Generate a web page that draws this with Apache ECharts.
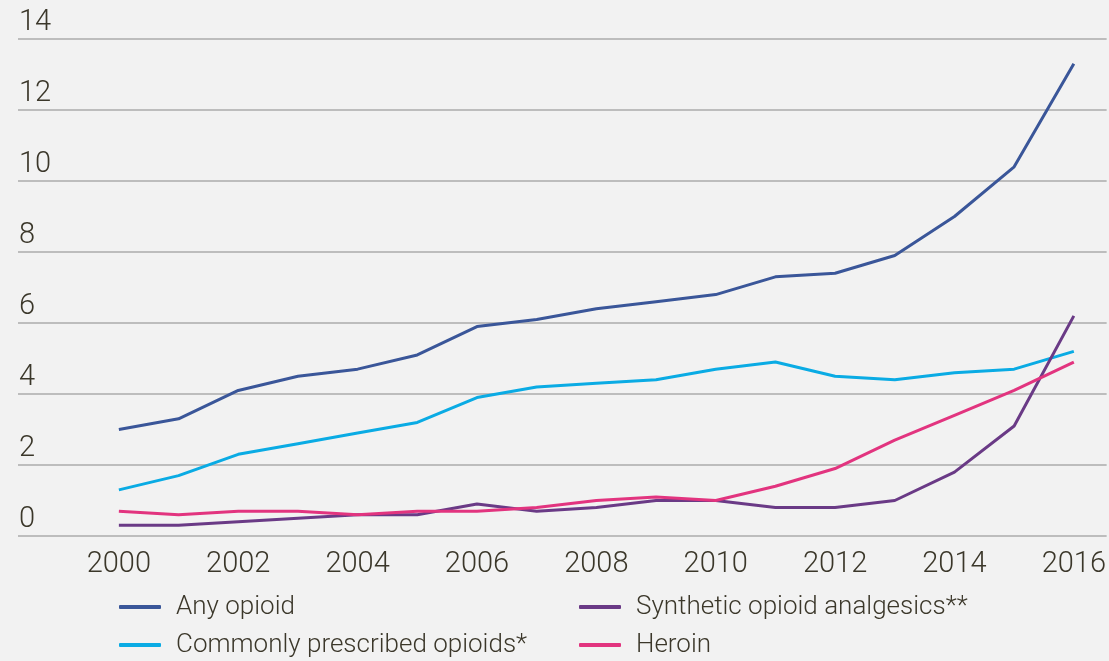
<!DOCTYPE html>
<html>
<head>
<meta charset="utf-8">
<script src="https://cdn.jsdelivr.net/npm/echarts@6/dist/echarts.min.js"></script>
<style>
  html, body { margin: 0; padding: 0; background: #f2f2f2; }
  #chart { width: 1109px; height: 661px; }
</style>
</head>
<body>
<div id="chart"></div>
<script>
// Opioid overdose death rates per 100,000, 2000–2016
const years = [2000, 2001, 2002, 2003, 2004, 2005, 2006, 2007, 2008, 2009, 2010, 2011, 2012, 2013, 2014, 2015, 2016];
const anyOpioid = [3.0, 3.3, 4.1, 4.5, 4.7, 5.1, 5.9, 6.1, 6.4, 6.6, 6.8, 7.3, 7.4, 7.9, 9.0, 10.4, 13.3];
const prescribed = [1.3, 1.7, 2.3, 2.6, 2.9, 3.2, 3.9, 4.2, 4.3, 4.4, 4.7, 4.9, 4.5, 4.4, 4.6, 4.7, 5.2];
const synthetic = [0.3, 0.3, 0.4, 0.5, 0.6, 0.6, 0.9, 0.7, 0.8, 1.0, 1.0, 0.8, 0.8, 1.0, 1.8, 3.1, 6.2];
const heroin = [0.7, 0.6, 0.7, 0.7, 0.6, 0.7, 0.7, 0.8, 1.0, 1.1, 1.0, 1.4, 1.9, 2.7, 3.4, 4.1, 4.9];
const yearLabels = [2000, 2002, 2004, 2006, 2008, 2010, 2012, 2014, 2016];

const names = ['Any opioid', 'Commonly prescribed opioids*', 'Synthetic opioid analgesics**', 'Heroin'];
const colors = ['#3a5699', '#0aabe4', '#6a3a86', '#e2347f'];

const FONT = 'Roboto, "Liberation Sans", sans-serif';
const TEXT = '#3b372a';

function pairs(vals) { return years.map((y, i) => [y, vals[i]]); }

const chart = echarts.init(document.getElementById('chart'), null, { renderer: 'canvas' });

const legendBase = {
  orient: 'vertical',
  top: 593,
  padding: 0,
  itemWidth: 42,
  itemHeight: 4,
  itemGap: 10,
  icon: 'roundRect',
  selectedMode: false,
  textStyle: {
    fontFamily: FONT, fontSize: 26, fontWeight: 300, color: TEXT,
    lineHeight: 28, padding: [0, 0, 0, 10]
  }
};

chart.setOption({
  backgroundColor: '#f2f2f2',
  animation: false,
  color: colors,
  grid: { left: 18, right: 2, top: 39, bottom: 125, containLabel: false },
  legend: [
    Object.assign({}, legendBase, { left: 119, data: [names[0], names[1]] }),
    Object.assign({}, legendBase, { left: 579, data: [names[2], names[3]] })
  ],
  xAxis: {
    type: 'value',
    min: 1998.31,
    max: 2016.55,
    axisLine: { show: false },
    axisTick: { show: false },
    splitLine: { show: false },
    axisLabel: {
      customValues: yearLabels,
      formatter: v => String(v),
      fontFamily: FONT, fontSize: 29, fontWeight: 300, color: TEXT,
      margin: 14
    }
  },
  yAxis: {
    type: 'value',
    min: 0,
    max: 14,
    interval: 2,
    axisLine: { show: false },
    axisTick: { show: false },
    splitLine: { lineStyle: { color: '#bdbdbd', width: 2 } },
    axisLabel: {
      inside: true,
      margin: 1,
      align: 'left',
      verticalAlign: 'bottom',
      padding: [0, 0, 2, 0],
      fontFamily: FONT, fontSize: 29, fontWeight: 300, color: TEXT
    }
  },
  series: [anyOpioid, prescribed, synthetic, heroin].map((vals, i) => ({
    name: names[i],
    type: 'line',
    data: pairs(vals),
    showSymbol: false,
    symbol: 'none',
    lineStyle: { width: 3, color: colors[i] },
    itemStyle: { color: colors[i] },
    z: 2 + i
  }))
});
</script>
</body>
</html>
